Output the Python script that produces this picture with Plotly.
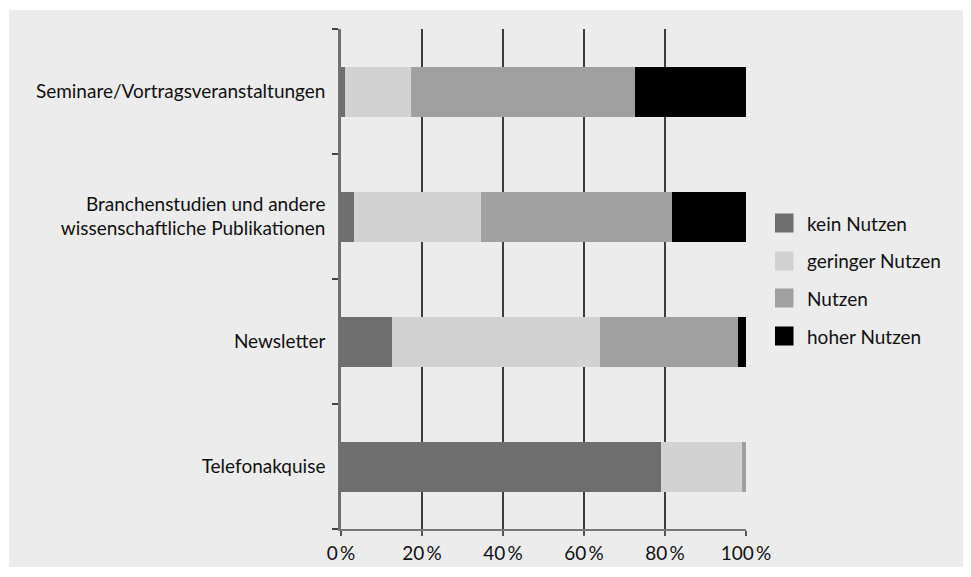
import plotly.graph_objects as go

categories = ["Seminare/Vortragsveranstaltungen",
              "Branchenstudien und andere<br>wissenschaftliche Publikationen",
              "Newsletter",
              "Telefonakquise"]
series_names = ["kein Nutzen", "geringer Nutzen", "Nutzen", "hoher Nutzen"]
kein_nutzen = [1.0, 3.2, 12.6, 79.0]
geringer_nutzen = [16.3, 31.4, 51.4, 20.0]
nutzen = [55.3, 47.1, 34.0, 1.0]
hoher_nutzen = [27.4, 18.3, 2.0, 0.0]
colors = ["#6e6e6e", "#d2d2d2", "#a0a0a0", "#000000"]
x_tickvals = [0, 20, 40, 60, 80, 100]
x_ticktext = ["0\u2009%", "20\u2009%", "40\u2009%", "60\u2009%", "80\u2009%", "100\u2009%"]

FONT = "Lato"
FS = 19
fig = go.Figure()
for name, vals, col in zip(series_names, [kein_nutzen, geringer_nutzen, nutzen, hoher_nutzen], colors):
    fig.add_trace(go.Bar(y=categories, x=vals, name=name, orientation="h",
                         marker=dict(color=col, line=dict(width=0)), showlegend=False))

# background panel
fig.add_shape(type="rect", xref="paper", yref="paper", x0=-0.8198, x1=1.5432, y0=-0.076, y1=1.038,
              fillcolor="#ececec", line=dict(width=0), layer="below")

# custom legend
leg_y = [0.612, 0.536, 0.462, 0.386]
for name, col, yy in zip(series_names, colors, leg_y):
    fig.add_shape(type="rect", xref="paper", yref="paper", x0=1.0716, x1=1.1173,
                  y0=yy - 0.019, y1=yy + 0.019, fillcolor=col, line=dict(width=0))
    fig.add_annotation(xref="paper", yref="paper", x=1.145, y=yy, text=name, showarrow=False,
                       xanchor="left", yanchor="middle", font=dict(family=FONT, size=FS, color="#111"))

fig.update_layout(
    barmode="stack", bargap=0.6,
    width=971, height=577,
    margin=dict(l=333, r=233, t=21, b=56),
    paper_bgcolor="white", plot_bgcolor="rgba(0,0,0,0)",
    font=dict(family=FONT, size=FS, color="#111"),
)
fig.update_xaxes(range=[0, 100], tickvals=x_tickvals, ticktext=x_ticktext,
                 showgrid=True, gridcolor="#3c3c3c", gridwidth=1.5,
                 showline=True, linecolor="#777", linewidth=1.5,
                 ticks="outside", ticklen=5, tickcolor="#555", tickwidth=1.5,
                 ticklabelstandoff=1, zeroline=False, fixedrange=True)
fig.update_yaxes(categoryorder="array", categoryarray=categories[::-1],
                 range=[-0.5, 3.5], tickson="boundaries", showgrid=False,
                 showline=True, linecolor="#707070", linewidth=2.5,
                 ticks="outside", ticklen=6, tickcolor="#444", tickwidth=1.5,
                 ticklabelstandoff=9, zeroline=False)
fig.write_html("out.html")
